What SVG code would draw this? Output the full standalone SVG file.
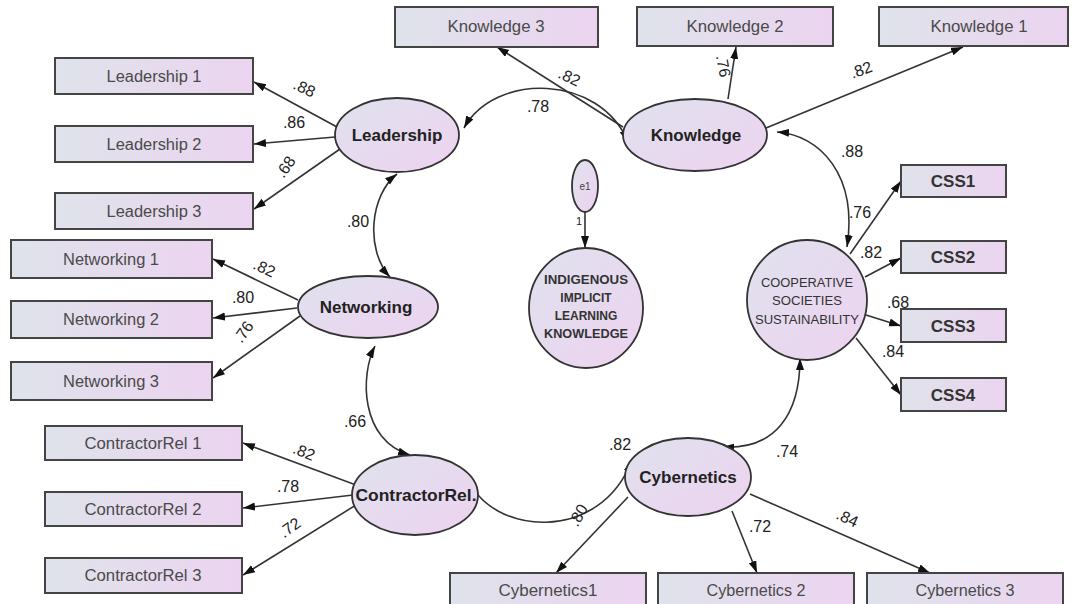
<svg xmlns="http://www.w3.org/2000/svg" width="1073" height="604" viewBox="0 0 1073 604">
<defs>
<linearGradient id="gBox" x1="0" y1="0" x2="1" y2="0">
<stop offset="0" stop-color="#dfe3eb"/><stop offset="1" stop-color="#ecd4f0"/>
</linearGradient>
<linearGradient id="gEl" x1="0" y1="0" x2="1" y2="1">
<stop offset="0" stop-color="#dfe2ee"/><stop offset="1" stop-color="#eed2f0"/>
</linearGradient>
<marker id="ah" markerWidth="13" markerHeight="9" refX="12" refY="4" orient="auto-start-reverse" markerUnits="userSpaceOnUse">
<path d="M0,0 L12,4 L0,8 z" fill="#111"/>
</marker>
</defs>
<style>
.box{fill:url(#gBox);stroke:#444;stroke-width:2}
.el{fill:url(#gEl);stroke:#333;stroke-width:1.8}
.bt{font-family:"Liberation Sans",Arial,sans-serif;font-size:16px;fill:#4a4a4a;text-anchor:middle}
.lt{font-family:"Liberation Sans",Arial,sans-serif;font-size:17px;font-weight:bold;fill:#222;text-anchor:middle}
.ct{font-family:"Liberation Sans",Arial,sans-serif;font-size:17px;font-weight:bold;fill:#333;text-anchor:middle}
.it{font-family:"Liberation Sans",Arial,sans-serif;font-size:12px;font-weight:bold;fill:#333;text-anchor:middle}
.st{font-family:"Liberation Sans",Arial,sans-serif;font-size:12px;fill:#333;text-anchor:middle}
.nl{font-family:"Liberation Sans",Arial,sans-serif;font-size:16px;fill:#222;text-anchor:middle}
.ln{fill:none;stroke:#333;stroke-width:1.6;marker-end:url(#ah)}
.arc{fill:none;stroke:#333;stroke-width:1.6;marker-start:url(#ah);marker-end:url(#ah)}
</style>
<rect width="1073" height="604" fill="#fff"/>

<g id="connectors">
<path class="ln" d="M337,127 L254,82"/>
<path class="ln" d="M335,137 L254,144"/>
<path class="ln" d="M340,149 L254,209"/>
<path class="ln" d="M298,300 L213,259"/>
<path class="ln" d="M297,308 L213,318"/>
<path class="ln" d="M300,316 L213,378"/>
<path class="ln" d="M356,485 L243,443"/>
<path class="ln" d="M353,495 L243,508"/>
<path class="ln" d="M356,505 L243,575"/>
<path class="ln" d="M623,127 L497,47"/>
<path class="ln" d="M728,99 L736,47"/>
<path class="ln" d="M766,128 L963,47"/>
<path class="ln" d="M850,254 L901,181"/>
<path class="ln" d="M865,277 L901,258"/>
<path class="ln" d="M866,315 L901,326"/>
<path class="ln" d="M856,338 L901,395"/>
<path class="ln" d="M628,497 L556,573"/>
<path class="ln" d="M732,511 L757,573"/>
<path class="ln" d="M750,494 L930,573"/>
<path class="ln" d="M585,212 L585,248"/>
<path class="arc" d="M464,128 C495,72 600,74 628,142"/>
<path class="arc" d="M397,174 C370,195 365,250 390,277"/>
<path class="arc" d="M375,346 C360,375 360,440 410,455"/>
<path class="arc" d="M468,478 C490,535 600,545 632,460"/>
<path class="arc" d="M722,447 C775,450 800,415 800,358"/>
<path class="arc" d="M777,132 C820,135 858,175 847,247"/>
</g>

<g id="labels">
<text class="nl" transform="rotate(25 302 93)" x="302" y="93">.88</text>
<text class="nl" x="294" y="128">.86</text>
<text class="nl" transform="rotate(-55 290 170)" x="290" y="170">.68</text>
<text class="nl" x="358" y="227">.80</text>
<text class="nl" transform="rotate(25 262 273)" x="262" y="273">.82</text>
<text class="nl" x="243" y="303">.80</text>
<text class="nl" transform="rotate(-55 248 335)" x="248" y="335">.76</text>
<text class="nl" x="355" y="427">.66</text>
<text class="nl" transform="rotate(22 302 457)" x="302" y="457">.82</text>
<text class="nl" x="288" y="492">.78</text>
<text class="nl" transform="rotate(-35 293 532)" x="293" y="532">.72</text>
<text class="nl" x="538" y="112">.78</text>
<text class="nl" transform="rotate(25 567 82)" x="567" y="82">.82</text>
<text class="nl" transform="rotate(80 718 67)" x="718" y="67">.76</text>
<text class="nl" transform="rotate(-20 863 75)" x="863" y="75">.82</text>
<text class="nl" x="852" y="157">.88</text>
<text class="nl" x="860" y="218">.76</text>
<text class="nl" x="871" y="258">.82</text>
<text class="nl" x="898" y="308">.68</text>
<text class="nl" x="893" y="357">.84</text>
<text class="nl" x="620" y="450">.82</text>
<text class="nl" transform="rotate(-60 583 518)" x="583" y="518">.80</text>
<text class="nl" x="787" y="457">.74</text>
<text class="nl" x="760" y="532">.72</text>
<text class="nl" transform="rotate(25 845 523)" x="845" y="523">.84</text>
<text class="nl" x="579" y="225" style="font-size:11px">1</text>
</g>

<g id="leadership1"><rect class="box" x="55" y="58" width="198" height="36"/><text class="bt" x="154" y="82" textLength="95" lengthAdjust="spacingAndGlyphs">Leadership 1</text></g>
<g id="leadership2"><rect class="box" x="55" y="126" width="198" height="36"/><text class="bt" x="154" y="150" textLength="95" lengthAdjust="spacingAndGlyphs">Leadership 2</text></g>
<g id="leadership3"><rect class="box" x="55" y="193" width="198" height="36"/><text class="bt" x="154" y="217" textLength="95" lengthAdjust="spacingAndGlyphs">Leadership 3</text></g>
<g id="networking1"><rect class="box" x="11" y="240" width="201" height="38"/><text class="bt" x="111" y="265" textLength="96" lengthAdjust="spacingAndGlyphs">Networking 1</text></g>
<g id="networking2"><rect class="box" x="11" y="301" width="201" height="37"/><text class="bt" x="111" y="325" textLength="96" lengthAdjust="spacingAndGlyphs">Networking 2</text></g>
<g id="networking3"><rect class="box" x="11" y="362" width="201" height="38"/><text class="bt" x="111" y="387" textLength="96" lengthAdjust="spacingAndGlyphs">Networking 3</text></g>
<g id="contractor1"><rect class="box" x="45" y="426" width="197" height="34"/><text class="bt" x="143" y="449" textLength="117" lengthAdjust="spacingAndGlyphs">ContractorRel 1</text></g>
<g id="contractor2"><rect class="box" x="45" y="492" width="197" height="34"/><text class="bt" x="143" y="515" textLength="117" lengthAdjust="spacingAndGlyphs">ContractorRel 2</text></g>
<g id="contractor3"><rect class="box" x="45" y="558" width="197" height="35"/><text class="bt" x="143" y="581" textLength="117" lengthAdjust="spacingAndGlyphs">ContractorRel 3</text></g>
<g id="knowledge3"><rect class="box" x="395" y="7" width="203" height="40"/><text class="bt" x="496" y="32" textLength="97" lengthAdjust="spacingAndGlyphs">Knowledge 3</text></g>
<g id="knowledge2"><rect class="box" x="637" y="7" width="196" height="39"/><text class="bt" x="735" y="32" textLength="97" lengthAdjust="spacingAndGlyphs">Knowledge 2</text></g>
<g id="knowledge1"><rect class="box" x="879" y="7" width="189" height="39"/><text class="bt" x="979" y="32" textLength="97" lengthAdjust="spacingAndGlyphs">Knowledge 1</text></g>
<g id="css1"><rect class="box" x="901" y="165" width="105" height="32"/><text class="ct" x="953" y="187">CSS1</text></g>
<g id="css2"><rect class="box" x="901" y="241" width="105" height="32"/><text class="ct" x="953" y="263">CSS2</text></g>
<g id="css3"><rect class="box" x="901" y="309" width="105" height="33"/><text class="ct" x="953" y="332">CSS3</text></g>
<g id="css4"><rect class="box" x="901" y="378" width="105" height="33"/><text class="ct" x="953" y="401">CSS4</text></g>
<g id="cyber1"><rect class="box" x="450" y="573" width="196" height="38"/><text class="bt" x="548" y="596" textLength="99" lengthAdjust="spacingAndGlyphs">Cybernetics1</text></g>
<g id="cyber2"><rect class="box" x="658" y="573" width="196" height="38"/><text class="bt" x="756" y="596" textLength="99" lengthAdjust="spacingAndGlyphs">Cybernetics 2</text></g>
<g id="cyber3"><rect class="box" x="867" y="573" width="196" height="38"/><text class="bt" x="965" y="596" textLength="99" lengthAdjust="spacingAndGlyphs">Cybernetics 3</text></g>

<g id="leadership"><ellipse class="el" cx="397" cy="135" rx="62" ry="37"/><text class="lt" x="397" y="141">Leadership</text></g>
<g id="knowledge"><ellipse class="el" cx="695" cy="135" rx="72" ry="36"/><text class="lt" x="696" y="141">Knowledge</text></g>
<g id="networking"><ellipse class="el" cx="368" cy="307" rx="70" ry="31"/><text class="lt" x="366" y="313">Networking</text></g>
<g id="contractorrel"><ellipse class="el" cx="415" cy="495" rx="63" ry="40"/><text class="lt" x="416" y="501" textLength="121" lengthAdjust="spacingAndGlyphs">ContractorRel.</text></g>
<g id="cybernetics"><ellipse class="el" cx="688" cy="477" rx="63" ry="39"/><text class="lt" x="688" y="483">Cybernetics</text></g>
<g id="css"><circle class="el" cx="807" cy="300" r="60"/>
<text class="st" x="807" y="287" textLength="92" lengthAdjust="spacingAndGlyphs">COOPERATIVE</text>
<text class="st" x="807" y="305" textLength="70" lengthAdjust="spacingAndGlyphs">SOCIETIES</text>
<text class="st" x="807" y="324" textLength="104" lengthAdjust="spacingAndGlyphs">SUSTAINABILITY</text></g>
<g id="e1"><ellipse class="el" cx="585" cy="186" rx="13" ry="26"/><text x="585" y="190" style="font-family:'Liberation Sans',Arial,sans-serif;font-size:10px;fill:#444;text-anchor:middle">e1</text></g>
<g id="iilk"><ellipse class="el" cx="586" cy="308" rx="57" ry="60"/>
<text class="it" x="586" y="284" textLength="84" lengthAdjust="spacingAndGlyphs">INDIGENOUS</text>
<text class="it" x="586" y="302">IMPLICIT</text>
<text class="it" x="586" y="320">LEARNING</text>
<text class="it" x="586" y="338" textLength="84" lengthAdjust="spacingAndGlyphs">KNOWLEDGE</text></g>
</svg>
